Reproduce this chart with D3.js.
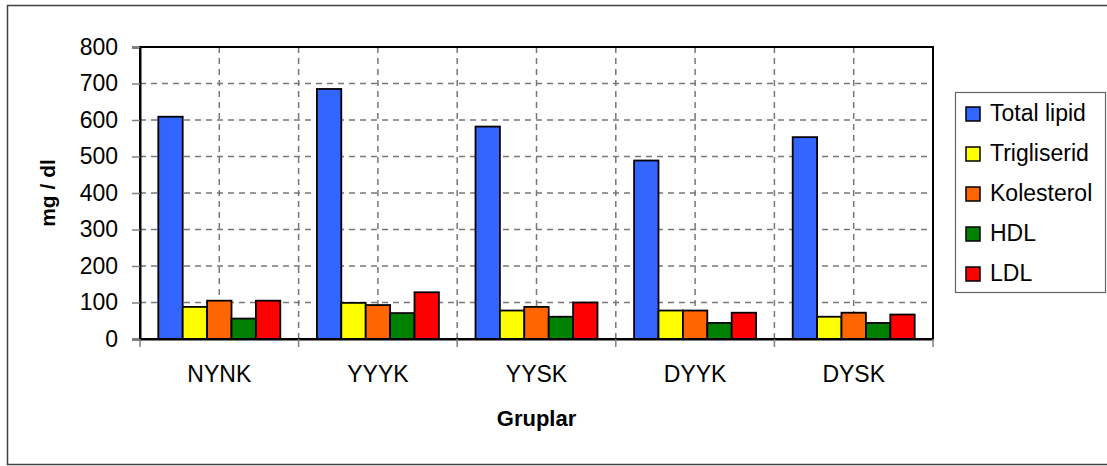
<!DOCTYPE html>
<html>
<head>
<meta charset="utf-8">
<script src="https://cdn.jsdelivr.net/npm/d3@7"></script>
<style>
  html, body { margin: 0; padding: 0; background: #fff; }
  svg { display: block; font-family: "Liberation Sans", Arial, sans-serif; }
</style>
</head>
<body>
<svg id="chart" width="1107" height="466"></svg>
<script>
const categories = ["NYNK", "YYYK", "YYSK", "DYYK", "DYSK"];
const seriesNames = ["Total lipid", "Trigliserid", "Kolesterol", "HDL", "LDL"];
const seriesColors = ["#3366FF", "#FFFF00", "#FF6600", "#008000", "#FF0000"];
const totalLipid = [609, 685, 582, 489, 553];
const trigliserid = [88, 99, 78, 78, 61];
const kolesterol = [105, 93, 88, 78, 72];
const hdl = [56, 71, 61, 44, 44];
const ldl = [105, 128, 100, 72, 67];
const yTicks = [0, 100, 200, 300, 400, 500, 600, 700, 800];
const xTitle = "Gruplar";
const yTitle = "mg / dl";

const seriesValues = [totalLipid, trigliserid, kolesterol, hdl, ldl];

const svg = d3.select("#chart");
const plot = { left: 140, right: 933, top: 47, bottom: 339 };
const FS = 23;

// outer border
svg.append("rect")
  .attr("x", 7.5).attr("y", 5.5).attr("width", 1106).attr("height", 459)
  .attr("fill", "#fff").attr("stroke", "#404040").attr("stroke-width", 1.5);

const x0 = d3.scaleBand().domain(categories).range([plot.left, plot.right]).paddingInner(0).paddingOuter(0);
const x1 = d3.scaleBand().domain(seriesNames).range([0, x0.bandwidth()]).paddingInner(0).paddingOuter(0.75);
const y = d3.scaleLinear().domain([0, 800]).range([plot.bottom, plot.top]);

// plot background
svg.append("rect")
  .attr("x", plot.left).attr("y", plot.top)
  .attr("width", plot.right - plot.left).attr("height", plot.bottom - plot.top)
  .attr("fill", "#fff");

// horizontal gridlines
svg.append("g").selectAll("line")
  .data(yTicks.filter(t => t > 0 && t < 800))
  .join("line")
  .attr("x1", plot.left).attr("x2", plot.right)
  .attr("y1", d => y(d)).attr("y2", d => y(d))
  .attr("stroke", "#777").attr("stroke-width", 1.5)
  .attr("stroke-dasharray", "6,5");

// vertical gridlines at category boundaries and centers
const vPositions = [];
categories.forEach((c, i) => {
  if (i > 0) vPositions.push(x0(c));
  vPositions.push(x0(c) + x0.bandwidth() / 2);
});
svg.append("g").selectAll("line")
  .data(vPositions)
  .join("line")
  .attr("x1", d => d).attr("x2", d => d)
  .attr("y1", plot.top).attr("y2", plot.bottom)
  .attr("stroke", "#777").attr("stroke-width", 1.5)
  .attr("stroke-dasharray", "6,5");

// bars
const groups = svg.append("g").selectAll("g")
  .data(categories)
  .join("g")
  .attr("transform", d => `translate(${x0(d)},0)`);

groups.selectAll("rect")
  .data((c, ci) => seriesNames.map((s, si) => ({ s, si, v: seriesValues[si][ci] })))
  .join("rect")
  .attr("x", d => x1(d.s))
  .attr("width", x1.bandwidth())
  .attr("y", d => y(d.v))
  .attr("height", d => y(0) - y(d.v))
  .attr("fill", d => seriesColors[d.si])
  .attr("stroke", "#000").attr("stroke-width", 1.8);

// plot border
svg.append("rect")
  .attr("x", plot.left).attr("y", plot.top)
  .attr("width", plot.right - plot.left).attr("height", plot.bottom - plot.top)
  .attr("fill", "none").attr("stroke", "#000").attr("stroke-width", 2);

// y axis
const yAxis = d3.axisLeft(y).tickValues(yTicks).tickSize(8).tickPadding(14);
const gy = svg.append("g").attr("transform", `translate(${plot.left},0)`).call(yAxis);
gy.select(".domain").attr("stroke", "#000").attr("stroke-width", 2);
gy.selectAll(".tick line").attr("stroke", "#808080").attr("stroke-width", 1.5);
gy.selectAll(".tick text").attr("font-size", FS).attr("fill", "#000")
  .attr("font-family", "Liberation Sans, Arial, sans-serif");

// x axis
const xAxis = d3.axisBottom(x0).tickSize(0).tickPadding(27);
const gx = svg.append("g").attr("transform", `translate(0,${plot.bottom})`).call(xAxis);
gx.select(".domain").attr("stroke", "#000").attr("stroke-width", 2);
gx.selectAll(".tick text").attr("font-size", FS).attr("fill", "#000")
  .attr("font-family", "Liberation Sans, Arial, sans-serif");

// x boundary ticks
const boundaries = categories.map(c => x0(c)).concat([x0.range()[1]]);
svg.append("g").selectAll("line")
  .data(boundaries)
  .join("line")
  .attr("x1", d => d).attr("x2", d => d)
  .attr("y1", plot.bottom).attr("y2", plot.bottom + 8)
  .attr("stroke", "#808080").attr("stroke-width", 1.5);

// axis titles
svg.append("text")
  .attr("x", (plot.left + plot.right) / 2).attr("y", 426)
  .attr("text-anchor", "middle")
  .attr("font-size", 22).attr("font-weight", "bold")
  .text(xTitle);

svg.append("text")
  .attr("transform", `translate(55,${(plot.top + plot.bottom) / 2}) rotate(-90)`)
  .attr("text-anchor", "middle")
  .attr("font-size", 21).attr("font-weight", "bold")
  .text(yTitle);

// legend
const legend = svg.append("g");
legend.append("rect")
  .attr("x", 955.5).attr("y", 92.5).attr("width", 150).attr("height", 200)
  .attr("fill", "#fff").attr("stroke", "#666").attr("stroke-width", 1.2);
const items = legend.selectAll("g.item")
  .data(seriesNames)
  .join("g").attr("class", "item")
  .attr("transform", (d, i) => `translate(0,${121 + i * 40})`);
items.append("rect")
  .attr("x", 966).attr("y", -14).attr("width", 14).attr("height", 14)
  .attr("fill", (d, i) => seriesColors[i])
  .attr("stroke", "#000").attr("stroke-width", 1.5);
items.append("text")
  .attr("x", 990).attr("y", 0)
  .attr("font-size", FS)
  .text(d => d);
</script>
</body>
</html>
